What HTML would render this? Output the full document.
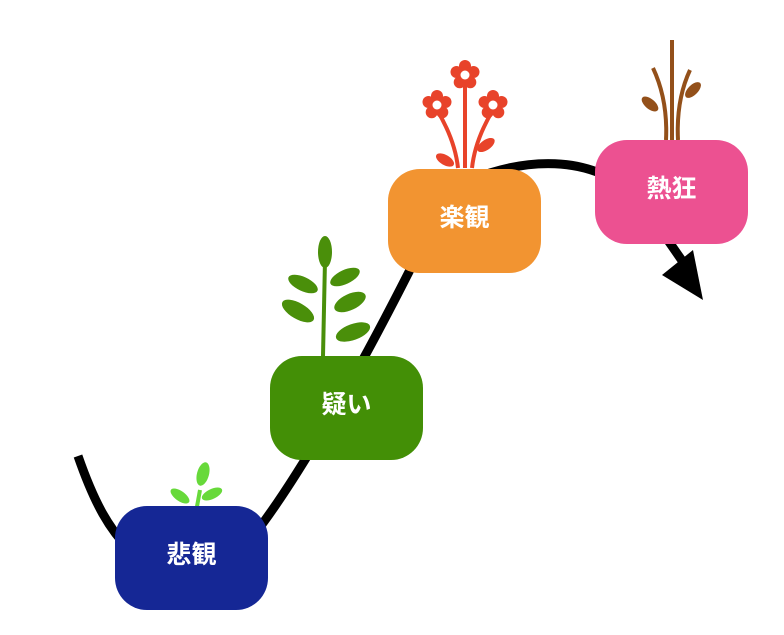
<!DOCTYPE html>
<html><head><meta charset="utf-8"><style>
body{margin:0;background:#fff;width:784px;height:635px;overflow:hidden;position:relative;font-family:"Liberation Sans","Noto Sans CJK JP",sans-serif}
.b{position:absolute;width:153px;height:104px;border-radius:32px;color:#fff;font-weight:bold;font-size:25px;text-align:center;box-sizing:border-box;padding-top:29px}
</style></head><body>
<svg width="784" height="635" style="position:absolute;left:0;top:0">
<defs>
<g id="fl"><g fill="#e8432a"><circle cx="0" cy="-9" r="6"/><circle cx="8.5" cy="-3" r="6"/><circle cx="5.3" cy="7.3" r="6"/><circle cx="-5.3" cy="7.3" r="6"/><circle cx="-8.5" cy="-3" r="6"/><circle r="8"/></g><circle r="4.5" fill="#fff"/></g>
</defs>
<path d="M78,456 C95,505 110,530 130,550 L250,540 C290,490 350,390 420,250 L470,180 C520,160 590,150 640,200 L683,262" fill="none" stroke="#000" stroke-width="9"/>
<polygon points="662,275 693,250 703,300" fill="#000"/>
<g fill="#67d93a">
<path d="M200,490 L196,512" stroke="#67d93a" stroke-width="4"/>
<ellipse cx="203" cy="474" rx="6" ry="12" transform="rotate(15 203 474)"/>
<ellipse cx="212" cy="494" rx="11" ry="5" transform="rotate(-25 212 494)"/>
<ellipse cx="180" cy="496" rx="11" ry="5" transform="rotate(35 180 496)"/>
</g>
<g fill="#4a8f0a">
<path d="M325,260 L323,356" stroke="#4a8f0a" stroke-width="4" fill="none"/>
<ellipse cx="325" cy="252" rx="7" ry="16"/>
<ellipse cx="345" cy="277" rx="16" ry="7" transform="rotate(-25 345 277)"/>
<ellipse cx="303" cy="284" rx="16" ry="7" transform="rotate(25 303 284)"/>
<ellipse cx="350" cy="302" rx="17" ry="8" transform="rotate(-25 350 302)"/>
<ellipse cx="298" cy="311" rx="18" ry="8" transform="rotate(30 298 311)"/>
<ellipse cx="353" cy="332" rx="18" ry="8" transform="rotate(-20 353 332)"/>
</g>
<g stroke="#e8432a" stroke-width="4" fill="none">
<path d="M465,80 L465,168"/><path d="M437,110 Q455,140 458,168"/><path d="M493,110 Q475,140 472,168"/>
</g>
<g fill="#e8432a">
<ellipse cx="445" cy="160" rx="10" ry="5" transform="rotate(30 445 160)"/>
<ellipse cx="486" cy="145" rx="10" ry="5" transform="rotate(-35 486 145)"/>
</g>
<use href="#fl" x="465" y="75"/><use href="#fl" x="437" y="105"/><use href="#fl" x="493" y="105"/>
<g stroke="#93501a" stroke-width="4" fill="none">
<path d="M672,40 L672,140"/><path d="M653,68 Q668,100 666,140"/><path d="M690,70 Q676,100 678,140"/>
</g>
<g fill="#93501a">
<ellipse cx="650" cy="104" rx="10" ry="5" transform="rotate(40 650 104)"/>
<ellipse cx="693" cy="90" rx="10" ry="5" transform="rotate(-45 693 90)"/>
</g>
</svg>
<div class="b" style="left:115px;top:506px;background:#152795">悲観</div>
<div class="b" style="left:270px;top:356px;background:#438f06">疑い</div>
<div class="b" style="left:388px;top:169px;background:#f29431">楽観</div>
<div class="b" style="left:595px;top:140px;background:#ec5191">熱狂</div>
</body></html>
